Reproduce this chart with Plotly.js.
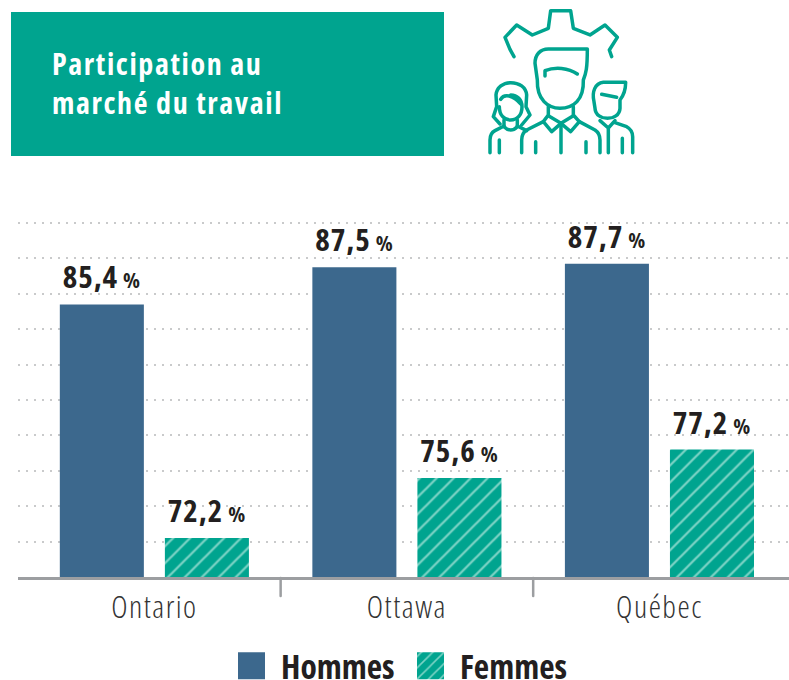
<!DOCTYPE html>
<html><head><meta charset="utf-8">
<script src="https://cdn.plot.ly/plotly-3.0.0.min.js"></script>
<style>html,body{margin:0;padding:0;background:#fff}
svg text{font-stretch:75%}
svg .gtitle{letter-spacing:1.6px}
svg .xtick text{letter-spacing:1.5px}
svg .bartext{letter-spacing:1px}</style></head>
<body><div id="chart" style="width:789px;height:680px"></div>
<script>
const categories = ["Ontario", "Ottawa", "Québec"];
const hommes = [85.4, 87.5, 87.7];
const femmes = [72.2, 75.6, 77.2];
const seriesNames = ["Hommes", "Femmes"];
const titleText = "Participation au<br>marché du travail";

const TEAL = "#00A48F", BLUE = "#3C688D", INK = "#231F20", AXIS = "#9C9EA1";
const FONT = "'Open Sans', sans-serif";
const W = 789, H = 680, L = 18, T = 218, B = 103;
const pw = W - L, ph = H - T - B;
const px = x => (x - L) / pw, py = y => (H - B - y) / ph;
const lab = a => a.map(v => "<b>" + v.toFixed(1).replace(".", ",") + "</b><span style=\"font-size:22px\"><b> %</b></span>");

// icon outline, in crop coordinates (1/3 pixel, origin at 480,0)
const icon = [
 "M102 170 L90 148 L75 112 L110 75 L157 105 L205 85 L212 32 L272 32 L280 85 L330 105 L375 75 L412 112 L388 150 L395 170",
 "M322 147 L205 147 C180 147 165 165 165 190 L172 240 C170 300 205 325 240 325 C280 325 312 300 310 240 C318 220 322 205 322 147 Z",
 "M195 228 L195 212 C225 200 265 203 292 222",
 "M205 320 L205 345 L190 365 L215 395 L243 370 L272 395 L298 365 L280 345 L280 320",
 "M205 347 L243 370 L280 347 M243 370 L243 458",
 "M190 365 L140 390 Q125 400 125 420 L125 458 M298 365 L345 390 Q360 400 360 420 L360 458",
 "M167 425 L167 458 M318 425 L318 458",
 "M60 372 L40 350 L50 320 L48 285 C50 262 70 248 92 248 C118 248 138 262 140 285 L138 320 L150 345 L125 375",
 "M62 298 C72 280 100 285 122 312",
 "M58 320 C58 345 72 360 92 360 C112 360 126 345 126 320 C126 300 112 285 92 285",
 "M72 360 L72 380 Q92 400 112 380 L112 360",
 "M72 378 L45 392 Q30 400 30 420 L30 458 M58 420 L58 458 M112 378 L140 392",
 "M437 247 L370 247 C345 250 335 275 342 305 L345 325 C347 365 418 365 420 325 L420 300 C432 285 437 270 437 247 Z",
 "M365 283 L410 292",
 "M360 362 L385 384 L405 362 M385 384 L385 458 M405 368 L440 380 Q458 390 458 410 L458 458 M427 415 L427 458"
];
const iconPath = d => d.replace(/(-?[\d.]+) (-?[\d.]+)/g, (m, a, b) =>
  px(480 + a / 3).toFixed(5) + "," + py(b / 3).toFixed(5)).replace(/([MLCQ])/g, " $1 ");

const shapes = [
  {type:"rect", xref:"paper", yref:"paper", x0:px(11), x1:px(444), y0:py(156), y1:py(12), fillcolor:TEAL, line:{width:0}, layer:"below"},
  ...icon.map(d => ({type:"path", xref:"paper", yref:"paper", path:iconPath(d), line:{color:TEAL, width:3.5}})),
  ...[0.5, 1.5].map(x => ({type:"line", xref:"x", yref:"paper", x0:x, x1:x, y0:py(578), y1:py(596), line:{color:AXIS, width:2.5}}))
];

const traces = [
  {type:"bar", name:seriesNames[0], x:categories, y:hommes, base:0, marker:{color:BLUE},
   text:lab(hommes), textposition:"outside", cliponaxis:false, hoverinfo:"none",
   textfont:{family:FONT, size:31, color:INK}},
  {type:"bar", name:seriesNames[1], x:categories, y:femmes, base:0,
   marker:{color:TEAL, pattern:{shape:"/", bgcolor:TEAL, fgcolor:"#7CD3C5", fillmode:"replace", size:12, solidity:0.19}},
   text:lab(femmes), textposition:"outside", cliponaxis:false, hoverinfo:"none",
   textfont:{family:FONT, size:31, color:INK}}
];

const layout = {
  width:W, height:H, paper_bgcolor:"#fff", plot_bgcolor:"#fff",
  margin:{l:L, r:0, t:T, b:B, pad:0, autoexpand:false},
  font:{family:FONT, color:INK},
  barmode:"group", bargap:0.168, bargroupgap:0.2,
  title:{text:"<b>"+titleText.replace("<br>","</b><br><b>")+"</b>", xref:"container", yref:"container", x:52/W, xanchor:"left", y:1-75/H, yanchor:"middle",
         font:{family:FONT, size:30, color:"#fff"}},
  xaxis:{type:"category", categoryarray:categories, range:[-0.54, 2.513], ticks:"", showline:true, linecolor:AXIS, linewidth:2.5,
         tickfont:{family:FONT, size:31, color:"#333", weight:300}, ticklabelstandoff:1, showgrid:false, zeroline:false},
  yaxis:{range:[70, 70 + ph / 17.7], tick0:70, dtick:2, showgrid:true, gridcolor:"#C9CACB", gridwidth:2, griddash:"2px,6px",
         showticklabels:false, ticks:"", showline:false, zeroline:false},
  showlegend:true,
  legend:{orientation:"h", x:px(222), xanchor:"left", y:py(666), yanchor:"middle", entrywidthmode:"pixels", entrywidth:115, itemwidth:49,
          font:{family:FONT, size:33.5, color:INK, weight:700}, bgcolor:"rgba(0,0,0,0)", itemclick:false, itemdoubleclick:false},
  shapes
};

Plotly.newPlot("chart", traces, layout, {displayModeBar:false, staticPlot:true}).then(gd => {
  gd.querySelectorAll(".legendpoints path").forEach(p => p.setAttribute("d", "M13.5,13.5H-13.5V-13.5H13.5Z"));
  gd.querySelectorAll(".shapelayer path").forEach(p => { p.style.strokeLinecap = "round"; p.style.strokeLinejoin = "round"; });
  gd.querySelectorAll(".bartext").forEach(t => t.setAttribute("transform", "translate(0,-4) " + (t.getAttribute("transform") || "")));
});
</script></body></html>
